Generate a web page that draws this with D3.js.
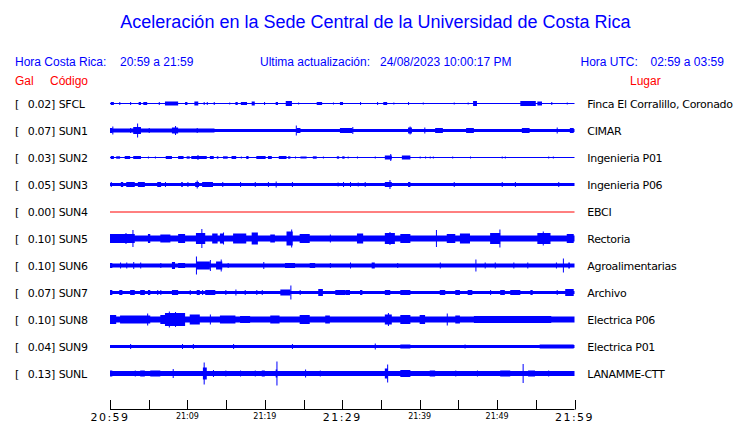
<!DOCTYPE html>
<html><head><meta charset="utf-8">
<script src="https://cdn.jsdelivr.net/npm/d3@7"></script>
<style>body{margin:0;background:#fff}svg{display:block}</style>
</head><body>
<script>
// ---- data ----
const codes  = ["SFCL","SUN1","SUN2","SUN3","SUN4","SUN5","SUN6","SUN7","SUN8","SUN9","SUNL"];
const places = ["Finca El Corralillo, Coronado","CIMAR","Ingenieria P01","Ingenieria P06","EBCI","Rectoria","Agroalimentarias","Archivo","Electrica P06","Electrica P01","LANAMME-CTT"];
const galMax = [0.02,0.07,0.03,0.05,0.00,0.10,0.10,0.07,0.10,0.04,0.13];
// background noise half-amplitude (relative trace units)
const noise  = [0.5,1.5,0.5,1.5,0,3,2,1.5,3,1.5,2.5];
// bursts per station: [start minute, end minute (after 20:59), half-amplitude]
const burstsSFCL = [[0.1,0.5,1.5],[1.2,1.2,1.5],[2.6,2.6,1.5],[3.7,4.0,1.5],[4.3,4.8,1.5],[6.3,6.3,1.5],[7.1,8.8,2],[9.7,10.0,1.5],[10.9,11.4,2],[12.1,12.1,1.5],[12.5,12.5,1.5],[13.4,13.4,1.5],[15.4,15.4,1],[16.2,16.5,1.5],[16.9,17.7,1.5],[18.3,18.7,2],[19.9,19.9,1.5],[21.4,21.7,1.5],[22.7,23.5,2.5],[24.3,24.3,1],[26.7,27.4,1.5],[28.8,28.8,1],[29.7,30.1,1.5],[32.3,32.3,1.5],[34.5,34.6,1.5],[35.3,35.8,1.5],[36.6,36.6,1],[38.5,38.5,1.5],[40.4,40.4,1],[44.4,44.4,1],[46.2,46.2,1],[46.9,47.4,2.5],[53.0,55.0,2.5],[55.2,55.8,2],[57.0,57.0,1.5],[59.0,59.0,1]];
const burstsSUN1 = [[0.0,13.5,2],[0.0,0.3,2.5],[0.3,0.3,4],[2.6,2.6,2.5],[3.0,4.0,3.5],[3.5,3.5,7],[5.0,5.0,2.5],[8.0,8.8,3],[8.4,8.4,4.5],[11.2,11.2,2.5],[24.0,24.0,5],[24.1,24.6,2.5],[29.7,31.3,2.5],[31.3,31.3,3.5],[38.5,39.0,3],[38.7,38.7,4],[40.6,40.6,3],[42.0,43.0,2.5],[46.0,47.0,2.5],[53.2,54.2,2.5],[57.7,57.7,3],[59.4,59.9,2.5]];
const burstsSUN2 = [[0.1,0.5,1.5],[0.8,1.3,1.2],[1.9,2.6,1.5],[3.0,4.0,1.5],[4.9,4.9,1],[5.8,5.8,1],[7.2,8.0,1.5],[8.8,9.5,1.5],[9.9,10.3,1.2],[10.5,12.5,1.5],[11.3,11.3,2.5],[12.9,13.4,1.5],[13.8,14.0,1.2],[14.6,15.2,1.2],[15.7,16.3,1.5],[16.9,17.0,1],[17.6,17.9,1.5],[18.9,20.1,1.5],[20.4,20.9,1.5],[21.8,22.8,1.5],[23.0,23.3,1.2],[23.9,23.9,1],[24.6,25.4,1],[26.2,26.7,1.2],[27.5,27.6,1],[29.3,29.6,1.2],[30.0,30.3,1.2],[30.7,30.7,1],[31.9,31.9,1],[34.2,34.2,1],[35.5,36.4,2],[36.2,36.2,3.5],[37.7,38.8,2],[40.0,40.0,1],[40.7,40.7,1],[41.3,41.3,1],[41.7,41.7,1],[44.2,44.2,1],[46.5,46.5,1],[50.6,50.6,1],[51.0,51.0,1],[56.6,56.6,1],[57.2,57.2,1]];
const burstsSUN3 = [[0.1,0.1,2.5],[1.4,1.7,2.5],[2.1,3.2,2.5],[3.6,4.5,2.5],[6.1,6.6,2.5],[7.1,7.1,2.5],[9.2,9.4,2.5],[10.0,10.1,2.5],[11.0,11.5,2.5],[11.2,11.2,4],[11.9,13.3,2.5],[14.5,14.5,2.5],[16.8,16.8,2.5],[18.7,18.7,2.5],[20.4,20.4,2.5],[21.4,21.5,3],[23.5,23.5,2.5],[29.4,29.4,2],[30.1,30.1,2.5],[31.0,31.0,2.5],[32.0,32.0,2],[32.9,32.9,2.5],[35.5,36.4,2.5],[36.1,36.1,4.5],[38.5,38.8,2.5],[44.4,44.4,2.5],[50.6,50.6,2.5],[52.3,52.3,2.5],[57.9,57.9,2.5]];
const burstsSUN4 = [];
const burstsSUN5 = [[0.0,3.2,4.5],[2.0,2.0,5.5],[2.9,2.9,8.5],[4.9,5.2,4.5],[6.5,7.8,4],[8.8,9.7,4.5],[11.1,12.3,5.5],[11.8,11.8,9.5],[13.2,13.9,5],[14.2,14.7,5],[14.6,14.6,6],[15.9,17.6,5],[18.3,19.1,6],[20.7,21.3,4],[22.8,23.6,7],[23.4,23.4,9],[24.5,25.8,4.5],[28.4,28.4,4],[31.9,32.7,5],[35.5,36.8,5.5],[36.1,36.1,6.5],[37.5,38.8,4.5],[42.1,42.1,8.5],[43.5,44.6,4.5],[45.2,46.5,5],[49.1,50.4,5.5],[50.3,50.3,9],[55.2,56.9,5.5],[55.9,55.9,7],[59.0,59.9,4.5]];
const burstsSUN6 = [[0.0,0.3,2.5],[1.3,1.3,3],[2.1,2.1,3],[3.0,3.0,3.5],[3.9,3.9,3],[6.5,6.5,2.5],[8.0,8.4,3.5],[8.8,9.7,2.5],[11.1,11.1,9],[11.2,12.9,4],[12.9,12.9,5.5],[13.7,14.5,4],[14.3,14.3,6],[15.2,15.2,2.5],[19.8,19.8,3.5],[22.6,23.9,2.5],[25.8,26.5,2.5],[28.4,28.4,2.5],[31.0,31.0,3],[33.8,34.2,3],[37.1,37.1,2.5],[42.6,42.6,3],[47.2,47.2,6],[48.4,48.4,3],[49.7,49.7,3],[52.1,52.1,3],[53.9,53.9,3],[57.6,57.6,3],[58.5,58.5,7],[59.2,59.4,3]];
const burstsSUN7 = [[0.0,0.3,2.5],[1.2,1.6,2.5],[2.6,3.2,2.5],[3.9,4.5,2.5],[4.9,5.2,2.5],[6.1,6.1,2.5],[6.5,6.5,2.5],[8.0,8.8,2.5],[10.3,10.3,2.5],[11.2,11.6,2.5],[11.9,11.9,2.5],[12.3,13.6,2.5],[14.9,14.9,2.5],[16.2,16.2,3],[17.4,17.4,2.5],[18.9,18.9,2.5],[19.6,19.6,2.5],[22.0,23.3,3],[23.3,23.3,7],[24.5,24.5,2.5],[26.9,27.5,3.5],[29.1,30.4,2.5],[30.4,31.0,2.5],[32.3,32.6,2.5],[35.5,36.2,2.5],[37.5,38.8,2.5],[42.6,43.3,2.5],[44.6,45.2,2.5],[46.2,46.8,2.5],[49.1,49.1,2.5],[50.4,51.0,2.5],[51.7,53.0,2.5],[54.3,54.6,2.5],[57.7,57.7,2.5],[58.8,59.9,3.5]];
const burstsSUN8 = [[0.0,0.8,4.5],[1.3,5.2,4],[4.8,4.8,6],[6.5,7.5,4.5],[7.1,9.7,6.5],[7.6,7.6,8],[8.4,8.4,7.5],[10.3,11.6,5],[12.9,12.9,5],[14.2,16.2,4],[16.8,18.1,3.5],[20.7,21.9,4],[24.5,25.8,4.5],[27.8,28.4,4],[35.5,36.4,5],[35.9,35.9,6.5],[37.5,38.8,4.5],[40.0,40.7,4.5],[43.5,43.5,6],[44.6,45.2,4],[47.0,57.0,3.5]];
const burstsSUN9 = [[2.6,2.6,2.5],[9.3,9.3,2.5],[10.7,10.7,2.5],[15.9,15.9,2.5],[23.5,23.5,2.5],[34.2,34.2,3],[37.5,38.8,2],[45.8,45.8,2],[55.5,59.9,2]];
const burstsSUNL = [[0.0,0.3,3],[3.2,3.2,3],[3.9,4.5,3],[5.2,6.5,3],[8.1,8.1,4.5],[12.0,12.5,6],[12.1,12.1,11],[13.3,13.3,3.5],[14.9,14.9,3],[16.8,16.8,3],[18.7,18.7,3],[19.6,20.0,3],[21.4,21.6,4],[21.5,21.5,12],[25.2,25.2,4],[27.1,27.1,3],[35.5,35.9,5],[35.8,35.8,9],[37.5,38.8,3.5],[41.3,42.0,3],[44.6,44.6,3],[47.4,47.4,3],[50.4,51.7,3],[53.3,53.3,9.5],[54.0,54.9,3],[56.6,56.6,3]];
const bursts = [burstsSFCL,burstsSUN1,burstsSUN2,burstsSUN3,burstsSUN4,burstsSUN5,burstsSUN6,burstsSUN7,burstsSUN8,burstsSUN9,burstsSUNL];
const tickLabels = ["20:59","21:04","21:09","21:14","21:19","21:24","21:29","21:34","21:39","21:44","21:49","21:54","21:59"];
const bigTicks = ["20:59","21:29","21:59"];
const smallTicks = ["21:09","21:19","21:39","21:49"];
const titleText = "Aceleración en la Sede Central de la Universidad de Costa Rica";

// ---- drawing ----
const W = 740, H = 423;
const BLUE = "#0000ff", RED = "#ff0000";
const svg = d3.select("body").append("svg").attr("width", W).attr("height", H);
const parse = d3.timeParse("%H:%M");
const t0 = parse("20:59");
const x = d3.scaleTime().domain([parse("20:59"), parse("21:59")]).range([110, 574.5]);
const xm = m => x(new Date(t0.getTime() + m * 60000));
const yRow = d3.scalePoint().domain(codes).range([103.5, 373.5]);
const amp = d3.scaleLinear().domain([-14, 14]).range([14, -14]);

svg.append("text").attr("x", 375.5).attr("y", 28).attr("text-anchor", "middle")
  .attr("font-family", "Liberation Sans, Arial, sans-serif").attr("font-size", 18).attr("fill", BLUE).text(titleText);

const hdr = (tx, xx, yy, col, anchor) => svg.append("text").attr("x", xx).attr("y", yy)
  .attr("font-family", "Liberation Sans, Arial, sans-serif").attr("font-size", 12)
  .attr("fill", col).attr("text-anchor", anchor || "start").text(tx);
hdr("Hora Costa Rica:", 15, 65.5, BLUE);
hdr("20:59 a 21:59", 120, 65.5, BLUE);
hdr("Ultima actualización:", 260, 65.5, BLUE);
hdr("24/08/2023 10:00:17 PM", 380, 65.5, BLUE);
hdr("Hora UTC:", 580.5, 65.5, BLUE);
hdr("02:59 a 03:59", 650.5, 65.5, BLUE);
hdr("Gal", 15, 85, RED);
hdr("Código", 50, 85, RED);
hdr("Lugar", 630, 85, RED);

const lab = (tx, xx, yy, anchor) => svg.append("text").attr("x", xx).attr("y", yy)
  .attr("font-family", "DejaVu Sans, sans-serif").attr("font-size", 11).attr("letter-spacing", -0.3)
  .attr("fill", "#000").attr("text-anchor", anchor || "start").text(tx);

codes.forEach((c, i) => {
  const y0 = yRow(c);
  lab("[", 15, y0 + 4);
  lab(galMax[i].toFixed(2) + "]", 55, y0 + 4, "end");
  lab(c, 58.7, y0 + 4);
  lab(places[i], 587.3, y0 + 4);
  const g = svg.append("g").attr("transform", `translate(0,${y0})`);
  if (c === "SUN4") {
    g.append("line").attr("x1", xm(0)).attr("x2", xm(60)).attr("y1", 0.5).attr("y2", 0.5)
      .attr("stroke", RED).attr("stroke-width", 1);
    return;
  }
  const band = Math.max(noise[i], 0.5);
  g.append("rect").attr("x", xm(0)).attr("width", xm(60) - xm(0))
    .attr("y", amp(band)).attr("height", amp(-band) - amp(band)).attr("fill", BLUE);
  g.selectAll("rect.b").data(bursts[i]).join("rect").attr("class", "b")
    .attr("x", d => xm(d[0]))
    .attr("width", d => Math.max(1, xm(d[1]) - xm(d[0])))
    .attr("y", d => amp(d[2]))
    .attr("height", d => amp(-d[2]) - amp(d[2]))
    .attr("fill", BLUE);
});

// axis
const ax = svg.append("g").attr("transform", "translate(0,409)");
ax.append("line").attr("x1", x.range()[0]).attr("x2", x.range()[1]).attr("y1", 0.5).attr("y2", 0.5).attr("stroke", "#000");
ax.selectAll("line.t").data(tickLabels).join("line").attr("class", "t")
  .attr("x1", d => Math.round(x(parse(d))) + 0.5).attr("x2", d => Math.round(x(parse(d))) + 0.5)
  .attr("y1", -9).attr("y2", 0.5).attr("stroke", "#000");
ax.selectAll("text.big").data(bigTicks).join("text").attr("class", "big")
  .attr("x", d => x(parse(d))).attr("y", 11.5).attr("text-anchor", "middle")
  .attr("font-family", "DejaVu Sans, sans-serif").attr("font-size", 11).attr("letter-spacing", 1.5)
  .attr("fill", "#000").text(d => d);
ax.selectAll("text.small").data(smallTicks).join("text").attr("class", "small")
  .attr("x", d => x(parse(d))).attr("y", 9.5).attr("text-anchor", "middle")
  .attr("font-family", "DejaVu Sans, sans-serif").attr("font-size", 8)
  .attr("fill", "#000").text(d => d);
</script>
</body></html>
